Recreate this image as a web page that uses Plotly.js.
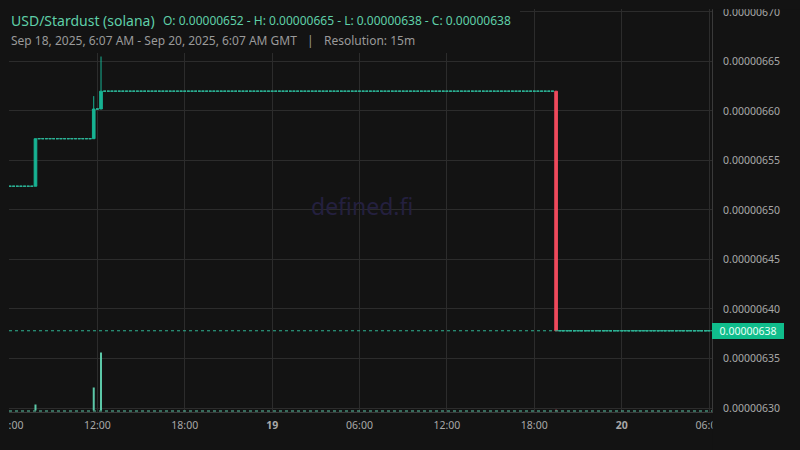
<!DOCTYPE html>
<html>
<head>
<meta charset="utf-8">
<script src="https://cdn.plot.ly/plotly-3.0.1.min.js"></script>
<style>
  html, body { margin: 0; padding: 0; background: #131313; }
  #chart { width: 800px; height: 450px; }
</style>
</head>
<body>
<div id="chart"></div>
<script>
// ---- Data (15m candles, GMT) ----
// Flat periods: every 15m candle inside has open = high = low = close = price
const flatStart = ['2025-09-18 06:00', '2025-09-18 08:00', '2025-09-18 12:00', '2025-09-18 12:30', '2025-09-19 19:45'];
const flatEnd   = ['2025-09-18 07:30', '2025-09-18 11:30', '2025-09-18 12:00', '2025-09-19 19:15', '2025-09-20 06:00'];
const flatPrice = [6.524e-6, 6.572e-6, 6.602e-6, 6.620e-6, 6.378e-6];

// Candles where the price moved
const moveTime  = ['2025-09-18 07:45', '2025-09-18 11:45', '2025-09-18 12:15', '2025-09-19 19:30'];
const moveOpen  = [6.524e-6, 6.572e-6, 6.602e-6, 6.620e-6];
const moveHigh  = [6.572e-6, 6.615e-6, 6.655e-6, 6.620e-6];
const moveLow   = [6.524e-6, 6.572e-6, 6.602e-6, 6.378e-6];
const moveClose = [6.572e-6, 6.602e-6, 6.620e-6, 6.378e-6];
const moveVolume = [60, 230, 580, 8];

const lastPrice = 6.378e-6;
const xTickVals = ['2025-09-18 06:00', '2025-09-18 12:00', '2025-09-18 18:00', '2025-09-19 00:00',
                   '2025-09-19 06:00', '2025-09-19 12:00', '2025-09-19 18:00', '2025-09-20 00:00', '2025-09-20 06:00'];
const xTickText = ['06:00', '12:00', '18:00', '<b>19</b>', '06:00', '12:00', '18:00', '<b>20</b>', '06:00'];

const titleText = 'USD/Stardust (solana)';
const ohlcText = 'O: 0.00000652 - H: 0.00000665 - L: 0.00000638 - C: 0.00000638';
const rangeText = 'Sep 18, 2025, 6:07 AM - Sep 20, 2025, 6:07 AM GMT';
const resolutionText = 'Resolution: 15m';

// ---- Build candle lists ----
const STEP = 15 * 60 * 1000;
function toMs(s) { return Date.parse(s.replace(' ', 'T') + ':00Z'); }
function toStr(ms) { return new Date(ms).toISOString().slice(0, 19).replace('T', ' '); }

const flats = [];
flatStart.forEach((s, i) => {
  for (let t = toMs(s); t <= toMs(flatEnd[i]); t += STEP) {
    flats.push({t, p: flatPrice[i]});
  }
});

const GREEN = '#17b393';
const FLAT = '#2db598';
const RED = '#ef4a5c';
const TEXTGREEN = '#5fcfa8';
const BG = '#131313';
const GRID = '#2c2c2c';

const flatCandles = {
  type: 'candlestick',
  x: flats.map(r => toStr(r.t)),
  open: flats.map(r => r.p),
  high: flats.map(r => r.p),
  low: flats.map(r => r.p),
  close: flats.map(r => r.p),
  increasing: {line: {color: FLAT, width: 1}, fillcolor: FLAT},
  decreasing: {line: {color: FLAT, width: 1}, fillcolor: FLAT},
  hoverinfo: 'skip', showlegend: false
};

const moveCandles = {
  type: 'candlestick',
  x: moveTime,
  open: moveOpen, high: moveHigh, low: moveLow, close: moveClose,
  increasing: {line: {color: GREEN, width: 1}, fillcolor: GREEN},
  decreasing: {line: {color: RED, width: 1}, fillcolor: RED},
  hoverinfo: 'skip', showlegend: false
};

const volume = {
  type: 'bar',
  x: moveTime,
  y: moveVolume,
  width: STEP * 0.55,
  marker: {color: moveClose.map((c, i) => c >= moveOpen[i] ? '#5cc8a8' : '#c0505e'), line: {width: 0}},
  yaxis: 'y2',
  hoverinfo: 'skip', showlegend: false
};

const PL = 9, PR = 88, PT = 9, PB = 38;
const W = 800, H = 450;
const pw = W - PL - PR, ph = H - PT - PB;
const px = x => (x - PL) / pw;          // pixel -> paper x
const py = y => (H - PB - y) / ph;      // pixel -> paper y

const layout = {
  width: W, height: H,
  margin: {l: PL, r: PR, t: PT, b: PB, pad: 0},
  paper_bgcolor: BG,
  plot_bgcolor: BG,
  font: {family: 'Noto Sans, Open Sans, sans-serif', color: '#a8a8a8', size: 10.5},
  showlegend: false,
  boxgap: 0.15,
  boxgroupgap: 0.15,
  xaxis: {
    type: 'date',
    range: ['2025-09-18 05:55:53', '2025-09-20 06:12:21'],
    tickmode: 'array',
    tickvals: xTickVals,
    ticktext: xTickText,
    showgrid: true, gridcolor: GRID, gridwidth: 1,
    zeroline: false,
    showline: true, linecolor: '#3a3a3a', linewidth: 1,
    ticks: '',
    ticklabelstandoff: 3,
    ticklabeloverflow: 'allow',
    tickfont: {size: 10.5, color: '#a8a8a8'},
    rangeslider: {visible: false},
    fixedrange: true
  },
  yaxis: {
    side: 'right',
    range: [6.29596e-6, 6.7030e-6],
    tick0: 6.30e-6, dtick: 5e-8,
    tickformat: '.8f',
    showgrid: true, gridcolor: GRID, gridwidth: 1,
    zeroline: false,
    showline: true, linecolor: '#3a3a3a', linewidth: 1,
    ticks: '',
    ticklabelstandoff: 8,
    ticklabeloverflow: 'allow',
    tickfont: {size: 10.5, color: '#a8a8a8'},
    fixedrange: true
  },
  yaxis2: {
    overlaying: 'y',
    range: [-15, 4015],
    visible: false,
    fixedrange: true
  },
  shapes: [
    // last price line
    {type: 'line', xref: 'paper', x0: 0, x1: 1, yref: 'y', y0: lastPrice, y1: lastPrice,
     line: {color: '#2fb594', width: 1, dash: 'dot'}, layer: 'above'},
    // volume base line
    {type: 'line', xref: 'paper', x0: 0, x1: 1, yref: 'paper', y0: py(411), y1: py(411),
     line: {color: '#5cc8a8', width: 1, dash: 'dot'}, layer: 'above'},
    // legend backdrop (hides grid behind the header)
    {type: 'rect', xref: 'paper', x0: px(0), x1: px(520), yref: 'paper', y0: py(53), y1: py(0),
     fillcolor: BG, line: {width: 0}, layer: 'above'},
    // pane clipping masks
    {type: 'rect', xref: 'paper', x0: px(0), x1: px(9), yref: 'paper', y0: py(450), y1: py(0),
     fillcolor: BG, line: {width: 0}, layer: 'above'},
    {type: 'rect', xref: 'paper', x0: px(712), x1: px(800), yref: 'paper', y0: py(9.3), y1: py(0),
     fillcolor: BG, line: {width: 0}, layer: 'above'},
    {type: 'rect', xref: 'paper', x0: px(712.5), x1: px(800), yref: 'paper', y0: py(450), y1: py(414),
     fillcolor: BG, line: {width: 0}, layer: 'above'}
  ],
  annotations: [
    {text: 'defined.fi', xref: 'paper', yref: 'paper', x: px(362), y: py(206),
     xanchor: 'center', yanchor: 'middle', showarrow: false,
     font: {size: 23, color: '#24203f'}},
    {text: titleText, xref: 'paper', yref: 'paper', x: px(9.5), y: py(20),
     xanchor: 'left', yanchor: 'middle', showarrow: false, borderpad: 0,
     font: {size: 14, color: TEXTGREEN}},
    {text: ohlcText, xref: 'paper', yref: 'paper', x: px(161.5), y: py(20.5),
     xanchor: 'left', yanchor: 'middle', showarrow: false, borderpad: 0,
     font: {size: 12, color: TEXTGREEN}},
    {text: rangeText, xref: 'paper', yref: 'paper', x: px(10), y: py(41),
     xanchor: 'left', yanchor: 'middle', showarrow: false, borderpad: 0,
     font: {size: 12, color: '#9a9a9a'}},
    {text: '|', xref: 'paper', yref: 'paper', x: px(310), y: py(41),
     xanchor: 'center', yanchor: 'middle', showarrow: false, borderpad: 0,
     font: {size: 12, color: '#9a9a9a'}},
    {text: resolutionText, xref: 'paper', yref: 'paper', x: px(323), y: py(41),
     xanchor: 'left', yanchor: 'middle', showarrow: false, borderpad: 0,
     font: {size: 12, color: '#9a9a9a'}},
    {text: lastPrice.toFixed(8), xref: 'paper', yref: 'y', x: 1, y: lastPrice,
     xanchor: 'left', yanchor: 'middle', showarrow: false,
     bgcolor: '#10bd8c', borderpad: 0, borderwidth: 0, width: 72, height: 16, align: 'center',
     font: {size: 10.5, color: '#eafff7'}}
  ]
};

Plotly.newPlot('chart', [volume, flatCandles, moveCandles], layout, {staticPlot: true, displayModeBar: false});
</script>
</body>
</html>
